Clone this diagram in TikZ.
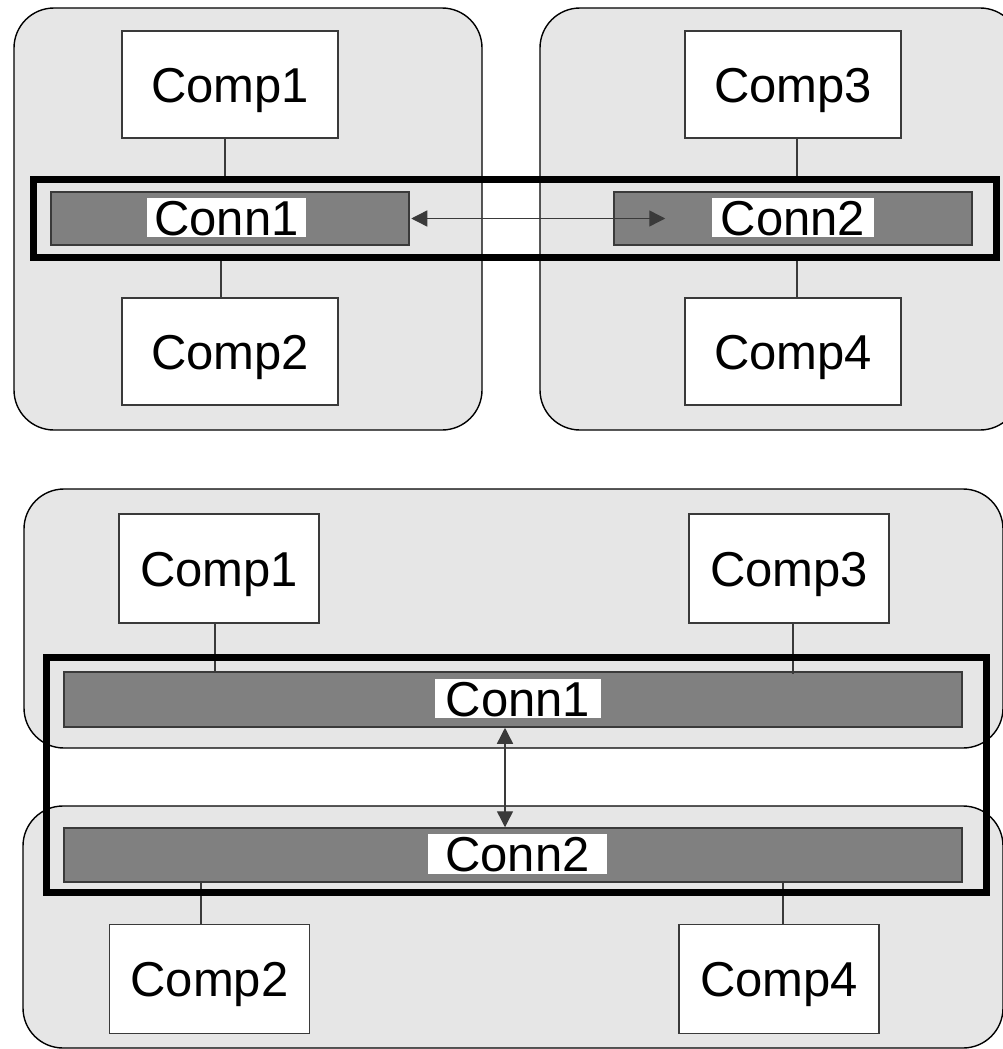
\documentclass[tikz,border=0pt]{standalone}
\usepackage{fontspec}
\setmainfont{Liberation Sans}
\usetikzlibrary{arrows.meta}
\definecolor{contfill}{HTML}{E6E6E6}
\definecolor{barfill}{HTML}{808080}
\definecolor{edge}{HTML}{3A3A3A}

\begin{document}
\begin{tikzpicture}[x=1pt,y=-1pt,
  container/.style={draw=black, line width=1.4pt, fill=contfill, rounded corners=40pt},
  comp/.style={draw=edge, line width=1.5pt, fill=white, inner sep=0pt,
    minimum width=216pt, minimum height=107pt,
    text height=35.5pt, text depth=0pt, font=\fontsize{49}{58}\selectfont},
  compb/.style={comp, minimum width=200pt, minimum height=109pt},
  connbar/.style={draw=edge, line width=1.5pt, fill=barfill, inner sep=0pt,
    minimum width=358pt, minimum height=53pt},
  connlabel/.style={fill=white, inner sep=0pt, minimum height=39pt,
    text height=35.5pt, text depth=0pt, font=\fontsize{49}{58}\selectfont},
  frame/.style={draw=black, line width=7pt, inner sep=0pt},
  wire/.style={draw=edge, line width=1.3pt},
  tip/.tip={Triangle[length=16pt,width=16pt]},
  arr/.style={draw=edge, line width=1.4pt, tip-tip}
]
\useasboundingbox (0,0) rectangle (1002,1049);

% ---------- side-by-side layout ----------
\path[container] (14,8) rectangle (482,430);
\path[container] (540,8) rectangle (1020,430);

\node[comp] (a1) at (230,84.5) {Comp1};
\node[comp] (a2) at (230,351.5) {Comp2};
\node[comp] (a3) at (793,84.5) {Comp3};
\node[comp] (a4) at (793,351.5) {Comp4};

\node[connbar] (ka) at (230,218.5) {};
\node[connbar] (kb) at (793,218.5) {};
\node[connlabel, minimum width=159pt] at (226.5,217.5) {Conn1};
\node[connlabel, minimum width=162pt] at (793,217.5) {Conn2};

\node[frame, minimum width=963pt, minimum height=77.5pt] (fa) at (514.5,218.25) {};

\draw[wire] ([xshift=-5pt]a1.south) -- ([xshift=-5pt]a1.south |- fa.north);
\draw[wire] ([xshift=-9pt]a2.north) -- ([xshift=-9pt]a2.north |- fa.south);
\draw[wire] ([xshift=4pt]a3.south) -- ([xshift=4pt]a3.south |- fa.north);
\draw[wire] ([xshift=4pt]a4.north) -- ([xshift=4pt]a4.north |- fa.south);
\node[frame, minimum width=963pt, minimum height=77.5pt] at (fa) {};

\draw[arr] ([xshift=1.5pt]ka.east) -- ([xshift=52pt]kb.west);

% ---------- stacked layout ----------
\path[container] (24,489) rectangle (1003,748);
\path[container] (23,806) rectangle (1003,1048);

\node[compb] (b1) at (219,568.5) {Comp1};
\node[compb] (b3) at (789,568.5) {Comp3};
\node[compb] (b2) at (209.5,979) {Comp2};
\node[compb] (b4) at (779,979) {Comp4};

\node[connbar, minimum width=898pt, minimum height=55pt] (kt) at (513,699.5) {};
\node[connbar, minimum width=898pt, minimum height=54pt] (kd) at (513,855) {};
\node[connlabel, minimum width=166pt] at (518,698.5) {Conn1};
\node[connlabel, minimum width=179pt, minimum height=40pt] at (517.5,854) {Conn2};

\draw[wire] ([xshift=-4pt]b1.south) -- ([xshift=-4pt]b1.south |- kt.north);
\draw[wire] ([xshift=4pt]b3.south) -- ([xshift=4pt,yshift=-3pt]b3.south |- kt.north);
\draw[wire] ([xshift=-8.5pt]b2.north) -- ([xshift=-8.5pt]b2.north |- kd.south);
\draw[wire] ([xshift=4pt]b4.north) -- ([xshift=4pt]b4.north |- kd.south);

\node[frame, minimum width=940pt, minimum height=235pt] (fb) at (516,774.5) {};

\coordinate (ax) at (505,0);
\draw[arr] (kt.south -| ax) -- (kd.north -| ax);
\end{tikzpicture}
\end{document}
